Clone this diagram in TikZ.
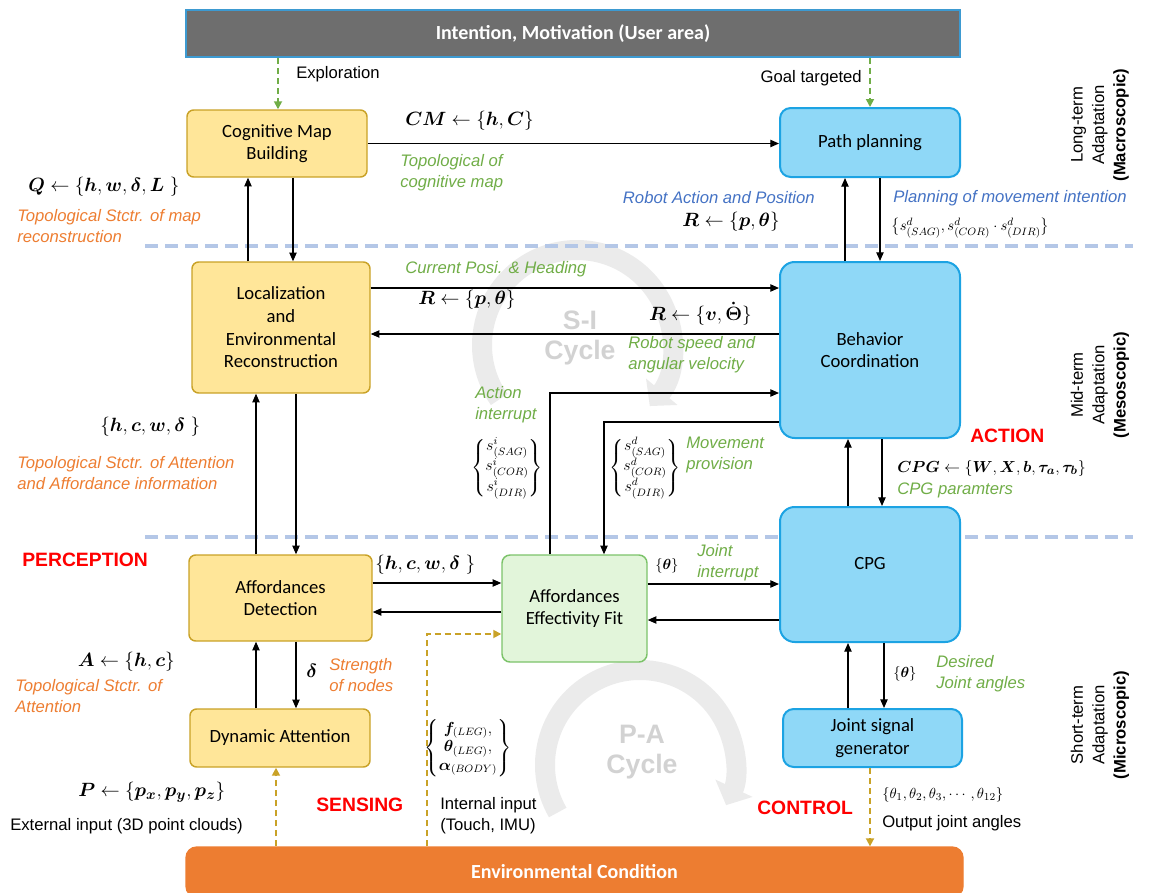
\documentclass[tikz,border=0pt]{standalone}
\usepackage{amsmath}
\usepackage[no-math]{fontspec}
\usepackage{bm}
\setmainfont{Liberation Sans}
\newfontfamily\calib{Carlito}
\usetikzlibrary{arrows.meta}
\definecolor{yfill}{HTML}{FFE699}
\definecolor{ydraw}{HTML}{C9A227}
\definecolor{bfill}{HTML}{8FD8F7}
\definecolor{bdraw}{HTML}{1CA3E3}
\definecolor{gfill}{HTML}{E2F5DA}
\definecolor{gdraw}{HTML}{7CC36A}
\definecolor{gtext}{HTML}{70AD47}
\definecolor{otext}{HTML}{ED7D31}
\definecolor{btext}{HTML}{4472C4}
\definecolor{rtext}{HTML}{FF0000}
\definecolor{lvlc}{HTML}{B4C7E7}
\definecolor{goldc}{HTML}{C9A227}
\definecolor{topfill}{HTML}{6E6E6E}
\definecolor{topdraw}{HTML}{3D9AD1}
\definecolor{envfill}{HTML}{ED7D31}
\definecolor{cycc}{HTML}{EBEBEB}
\definecolor{cyct}{HTML}{D2D2D2}
\begin{document}
\begin{tikzpicture}[x=0.75pt,y=-0.75pt,
  sz/.style 2 args={minimum width=#1*0.75pt, minimum height=#2*0.75pt},
  boxtext/.style={font=\calib\fontsize{14}{17}\selectfont, align=center, inner sep=0pt, text=black},
  ybox/.style={boxtext, draw=ydraw, fill=yfill, line width=1.1pt, rounded corners=5pt},
  bbox/.style={boxtext, draw=bdraw, fill=bfill, line width=1.5pt, rounded corners=8pt},
  gbox/.style={boxtext, draw=gdraw, fill=gfill, line width=1.1pt, rounded corners=6pt},
  barbox/.style={font=\calib\bfseries\fontsize{15}{18}\selectfont, text=white, inner sep=0pt},
  arr/.style={-{Triangle[length=6.5pt,width=5.5pt]}, line width=0.9pt},
  garr/.style={-{Triangle[length=6pt,width=6pt]}, line width=1.3pt, draw=gtext, dash pattern=on 4.5pt off 3pt},
  darr/.style={-{Triangle[length=6pt,width=6pt]}, line width=1.3pt, draw=goldc, dash pattern=on 4.5pt off 3pt},
  lvl/.style={draw=lvlc, line width=3pt, dash pattern=on 10pt off 5pt},
  lab/.style={font=\fontsize{12.5}{15.5}\selectfont, inner sep=0pt, align=left},
  glab/.style={lab, font=\itshape\fontsize{12.5}{15.5}\selectfont, text=gtext},
  olab/.style={lab, font=\itshape\fontsize{12.5}{16}\selectfont, text=otext},
  blab/.style={lab, font=\itshape\fontsize{12.5}{15.5}\selectfont, text=btext},
  rlab/.style={font=\bfseries\fontsize{14.5}{17}\selectfont, text=rtext, inner sep=0pt},
  mth/.style={font=\fontsize{15}{18}\selectfont, inner sep=0pt},
  smth/.style={font=\fontsize{11}{13}\selectfont, inner sep=0pt},
  mtx/.style={font=\fontsize{12}{14}\selectfont, inner sep=0pt},
  cyctext/.style={font=\bfseries\fontsize{20}{22.5}\selectfont, text=cyct, align=center},
  cycarrow/.style={line width=15pt, draw=cycc, -{Triangle[length=14pt,width=30pt]}},
  vlab/.style={font=\fontsize{12.5}{16}\selectfont, align=center, rotate=90}
]
\useasboundingbox (0,0) rectangle (1154,893);

% cycles
\draw[cycarrow] (577,345) ++(-215:95) arc[start angle=-215, end angle=40, radius=95];
\draw[cycarrow] (640,765) ++(-210:95) arc[start angle=-210, end angle=25, radius=95];
\node[cyctext] (sic) at (580,338) {S-I\\Cycle};
\node[cyctext] (pac) at (642,752) {P-A\\Cycle};

% level lines
\coordinate (l1a) at (145,246); \coordinate (l1b) at (1133,246);
\coordinate (l2a) at (145,537); \coordinate (l2b) at (1133,537);
\draw[lvl] (l1a) -- (l1b);
\draw[lvl] (l2a) -- (l2b);

% bars
\node[barbox, fill=topfill, draw=topdraw, line width=1.2pt, sz={774}{47}] (top) at (573,33.5) {Intention, Motivation (User area)};
\node[barbox, fill=envfill, draw=envfill, line width=1pt, rounded corners=8pt, sz={777}{50}] (env) at (574.5,872) {Environmental Condition};

% boxes
\node[ybox, sz={180}{67}] (cmb) at (277,143.5) {Cognitive Map\\Building};
\node[ybox, sz={178}{131}] (loc) at (281,327.5) {Localization\\and\\Environmental\\Reconstruction};
\node[ybox, sz={183}{86}] (ad) at (280.5,598) {Affordances\\Detection};
\node[ybox, sz={180}{58}] (da) at (280,738) {Dynamic Attention};
\node[bbox, sz={180}{69}] (pp) at (870,142.5) {Path planning};
\node[bbox, rounded corners=11pt, sz={180}{176}] (beh) at (870,350) {Behavior\\Coordination};
\node[bbox, rounded corners=11pt, sz={180}{135}] (cpg) at (870,574.5) {CPG\\~};
\node[bbox, sz={179}{58}] (jsg) at (872.5,738) {Joint signal\\generator};
\node[gbox, sz={145}{107}] (aef) at (574.5,608.5) {Affordances\\Effectivity Fit};

% helper coordinates
\coordinate (xa) at (248,0); \coordinate (xb) at (293,0);
\coordinate (xc) at (256,0); \coordinate (xd) at (296,0);
\coordinate (xe) at (845,0); \coordinate (xf) at (880,0);
\coordinate (xg) at (848,0); \coordinate (xh) at (882,0);
\coordinate (xi) at (884,0); \coordinate (xj) at (550,0);
\coordinate (xk) at (604,0); \coordinate (xl) at (278,0);
\coordinate (xm) at (870,0); \coordinate (xn) at (276,0);
\coordinate (xo) at (427,0);
\coordinate (ya) at (0,288); \coordinate (yb) at (0,334);
\coordinate (yc) at (0,583); \coordinate (yd) at (0,612);
\coordinate (ye) at (0,584); \coordinate (yf) at (0,620);
\coordinate (yg) at (0,393); \coordinate (yh) at (0,422);
\coordinate (yi) at (0,634);

% connectors
\draw[arr] (loc.north -| xa) -- (cmb.south -| xa);
\draw[arr] (cmb.south -| xb) -- (loc.north -| xb);
\draw[arr] (ad.north -| xc) -- (loc.south -| xc);
\draw[arr] (loc.south -| xd) -- (ad.north -| xd);
\draw[arr] (da.north -| xc) -- (ad.south -| xc);
\draw[arr] (ad.south -| xd) -- (da.north -| xd);
\draw[arr] (beh.north -| xe) -- (pp.south -| xe);
\draw[arr] (pp.south -| xf) -- (beh.north -| xf);
\draw[arr] (cpg.north -| xg) -- (beh.south -| xg);
\draw[arr] (beh.south -| xh) -- (cpg.north -| xh);
\draw[arr] (jsg.north -| xg) -- (cpg.south -| xg);
\draw[arr] (cpg.south -| xi) -- (jsg.north -| xi);
\draw[arr] (cmb.east) -- (cmb.east -| pp.west);
\draw[arr] (loc.east |- ya) -- (beh.west |- ya);
\draw[arr] (beh.west |- yb) -- (loc.east |- yb);
\draw[arr] (ad.east |- yc) -- (aef.west |- yc);
\draw[arr] (aef.west |- yd) -- (ad.east |- yd);
\draw[arr] (aef.east |- ye) -- (cpg.west |- ye);
\draw[arr] (cpg.west |- yf) -- (aef.east |- yf);
\draw[arr] (aef.north -| xj) |- (beh.west |- yg);
\draw[arr] (beh.west |- yh) -| (aef.north -| xk);
\draw[garr] (top.south -| xl) -- (cmb.north -| xl);
\draw[garr] (top.south -| xm) -- (pp.north -| xm);
\draw[darr] (env.north -| xn) -- (da.south -| xn);
\draw[darr] (env.north -| xo) |- (aef.west |- yi);
\draw[darr] (jsg.south -| xm) -- (env.north -| xm);

% labels top
\node[lab, anchor=west] (t1) at (296,74) {Exploration};
\node[lab, anchor=east] (t2) at (862,78) {Goal targeted};
\node[mth, anchor=west] (t3) at (405,121) {$\bm{CM}\leftarrow\{\bm{h},\bm{C}\}$};
\node[glab, anchor=west] (t4) at (400,173) {Topological of\\cognitive map};
\node[mth, anchor=west] (t5) at (28,187) {$\bm{Q}\leftarrow\{\bm{h},\bm{w},\bm{\delta},\bm{L}\ \}$};
\node[olab, anchor=west] (t6) at (17,226) {Topological Stctr. of map\\reconstruction};
\node[blab, anchor=east] (t7) at (815,198) {Robot Action and Position};
\node[mth, anchor=east] (t8) at (780,222) {$\bm{R}\leftarrow\{\bm{p},\bm{\theta}\}$};
\node[blab, anchor=west] (t9) at (893,198) {Planning of movement intention};
\node[font=\fontsize{11}{13}\selectfont, inner sep=0pt, anchor=west] (t10) at (891,228) {$\bigl\{s^{d}_{(SAG)},s^{d}_{(COR)}\cdot s^{d}_{(DIR)}\bigr\}$};

% labels middle
\node[glab, anchor=west] (m1) at (405,269) {Current Posi. \& Heading};
\node[mth, anchor=west] (m2) at (418,300) {$\bm{R}\leftarrow\{\bm{p},\bm{\theta}\}$};
\node[mth, anchor=east] (m3) at (752,314) {$\bm{R}\leftarrow\{\bm{v},\bm{\dot{\Theta}}\}$};
\node[glab, anchor=west] (m4) at (628,355) {Robot speed and\\angular velocity};
\node[glab, anchor=west] (m5) at (475,405) {Action\\interrupt};
\node[mtx] (m6) at (507,468) {$\left\{\begin{matrix} s^{i}_{(SAG)}\\[1pt] s^{i}_{(COR)}\\[1pt] s^{i}_{(DIR)}\end{matrix}\right\}$};
\node[mtx] (m7) at (645,468) {$\left\{\begin{matrix} s^{d}_{(SAG)}\\[1pt] s^{d}_{(COR)}\\[1pt] s^{d}_{(DIR)}\end{matrix}\right\}$};
\node[glab, anchor=west] (m8) at (686,455) {Movement\\provision};
\node[mth, anchor=west] (m9) at (100,427) {$\{\bm{h},\bm{c},\bm{w},\bm{\delta}\ \}$};
\node[olab, anchor=west] (m10) at (17,473) {Topological Stctr. of Attention\\and Affordance information};
\node[rlab, anchor=west] (m11) at (970,436) {ACTION};
\node[font=\fontsize{12.5}{15}\selectfont, inner sep=0pt, anchor=west] (m12) at (897,468) {$\bm{CPG}\leftarrow\{\bm{W},\bm{X},\bm{b},\bm{\tau_a},\bm{\tau_b}\}$};
\node[glab, anchor=west] (m13) at (897,490) {CPG paramters};

% labels bottom
\node[rlab, anchor=west] (b1) at (22,560) {PERCEPTION};
\node[mth, anchor=west] (b2) at (375,565) {$\{\bm{h},\bm{c},\bm{w},\bm{\delta}\ \}$};
\node[smth, anchor=west] (b3) at (655,566) {$\{\bm{\theta}\}$};
\node[glab, anchor=west] (b4) at (697,563) {Joint\\interrupt};
\node[mth, anchor=east] (b5) at (175,662) {$\bm{A}\leftarrow\{\bm{h},\bm{c}\}$};
\node[olab, anchor=west] (b6) at (15,696) {Topological Stctr. of\\Attention};
\node[mth, anchor=west] (b7) at (306,671) {$\bm{\delta}$};
\node[olab, anchor=west] (b8) at (329,675) {Strength\\of nodes};
\node[smth, anchor=west] (b9) at (893,674) {$\{\bm{\theta}\}$};
\node[glab, anchor=west] (b10) at (936,674) {Desired\\Joint angles};
\node[mth, anchor=west] (b11) at (78,792) {$\bm{P}\leftarrow\left\{\bm{p_x},\bm{p_y},\bm{p_z}\right\}$};
\node[lab, anchor=west] (b12) at (10,826) {External input (3D point clouds)};
\node[rlab, anchor=west] (b13) at (316,805) {SENSING};
\node[mtx] (b14) at (468,748) {$\left\{\begin{matrix}\bm{f}_{(LEG)},\\ \bm{\theta}_{(LEG)},\\ \bm{\alpha}_{(BODY)}\end{matrix}\right\}$};
\node[lab, anchor=west] (b15) at (440,816) {Internal input\\(Touch, IMU)};
\node[rlab, anchor=west] (b16) at (757,808) {CONTROL};
\node[smth, anchor=west] (b17) at (882,795) {$\{\theta_1,\theta_2,\theta_3,\cdots,\theta_{12}\}$};
\node[lab, anchor=west] (b18) at (882,823) {Output joint angles};

% level labels
\node[vlab] (v1) at (1100,125) {Long-term\\Adaptation\\\textbf{(Macroscopic)}};
\node[vlab] (v2) at (1100,385) {Mid-term\\Adaptation\\\textbf{(Mesoscopic)}};
\node[vlab] (v3) at (1100,725) {Short-term\\Adaptation\\\textbf{(Microscopic)}};
\end{tikzpicture}
\end{document}
